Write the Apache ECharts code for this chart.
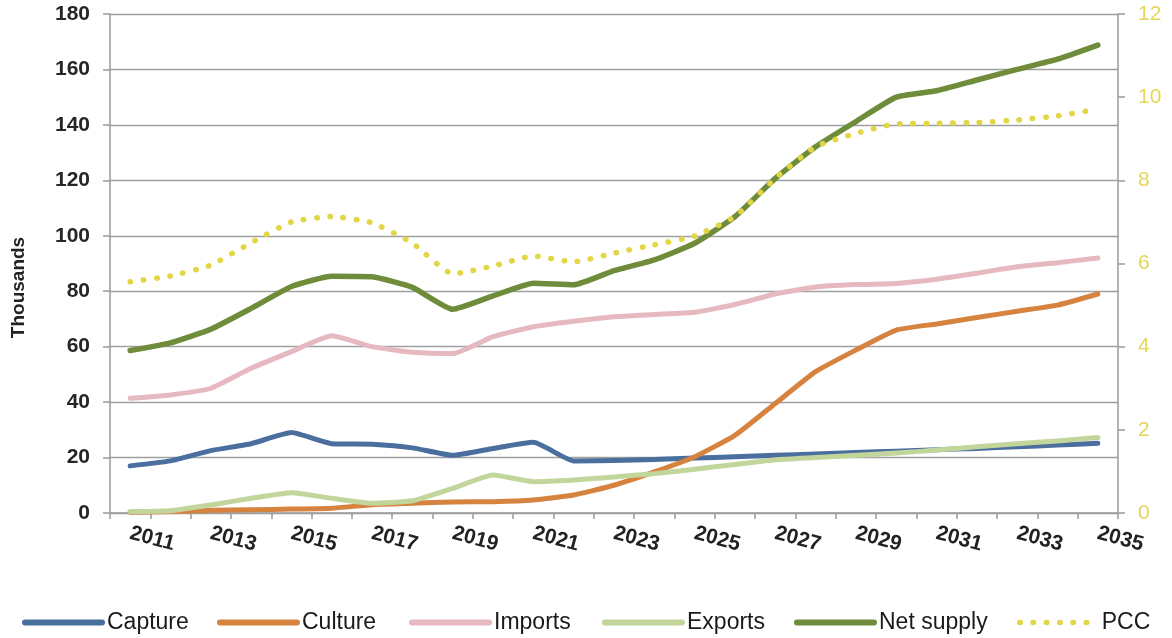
<!DOCTYPE html>
<html>
<head>
<meta charset="utf-8">
<script src="https://cdn.jsdelivr.net/npm/echarts@6/dist/echarts.min.js"></script>
<style>
html,body{margin:0;padding:0;background:#fff;}
#chart{width:1172px;height:638px;}
</style>
</head>
<body>
<div id="chart"></div>
<script>
const years = ['2011','2012','2013','2014','2015','2016','2017','2018','2019','2020','2021','2022','2023','2024','2025','2026','2027','2028','2029','2030','2031','2032','2033','2034','2035'];
const capture = [17, 18.8, 22.5, 25, 29, 25, 24.8, 23.5, 20.8, 23.3, 25.5, 18.8, 18.9, 19.3, 19.8, 20.3, 20.8, 21.3, 21.8, 22.3, 22.8, 23.3, 23.9, 24.5, 25.2];
const culture = [0.3, 0.5, 1.0, 1.2, 1.4, 1.7, 3.0, 3.5, 4.0, 4.1, 4.7, 6.5, 10, 14.8, 20.3, 28, 39.5, 51, 58.8, 66, 68.2, 70.5, 72.8, 75, 79];
const imports = [41.4, 42.6, 45, 52.2, 58.2, 63.9, 60, 58, 57.5, 63.6, 67.2, 69.2, 70.8, 71.6, 72.4, 75.2, 79, 81.5, 82.4, 82.8, 84.3, 86.5, 88.8, 90.3, 92];
const exportsData = [0.5, 0.8, 2.9, 5.3, 7.3, 5.3, 3.5, 4.4, 8.9, 13.7, 11.3, 11.9, 13, 14.2, 15.8, 17.5, 19.2, 20, 20.8, 21.6, 22.7, 23.9, 25, 26, 27.2];
const netSupply = [58.6, 61.4, 66.3, 73.8, 81.7, 85.4, 85.2, 81.4, 73.5, 78.3, 82.9, 82.3, 87.4, 91.3, 97.3, 106.9, 120.7, 132.1, 141.2, 150, 152.3, 156.2, 160, 163.7, 168.8];
const pcc = [5.56, 5.70, 5.96, 6.5, 7.0, 7.13, 6.98, 6.49, 5.75, 5.94, 6.18, 6.04, 6.25, 6.45, 6.66, 7.13, 8.05, 8.81, 9.13, 9.36, 9.37, 9.39, 9.45, 9.55, 9.71];

const colors = {
  Capture: '#4a6e9e',
  Culture: '#d5833f',
  Imports: '#e5b9bf',
  Exports: '#c2d69b',
  'Net supply': '#6e8c3a',
  PCC: '#e2d647'
};

const chart = echarts.init(document.getElementById('chart'), null, {renderer: 'canvas'});
const axisGray = '#9a9a9a';
const font = 'Liberation Sans, Arial, sans-serif';
const pccDash = [0.5, 12.8];

function lineSeries(name, data, extra) {
  return Object.assign({
    name: name,
    type: 'line',
    data: data,
    symbol: 'none',
    smooth: 0.15,
    lineStyle: {color: colors[name], width: 5, cap: 'round', join: 'round'},
    itemStyle: {color: colors[name]}
  }, extra || {});
}

function legendAt(name, left, dashed) {
  return {
    data: [name],
    left: left,
    top: 606,
    itemWidth: 77,
    itemHeight: 14,
    itemStyle: {opacity: 0},
    lineStyle: dashed
      ? {width: 5.5, type: pccDash, cap: 'round', color: colors[name]}
      : {width: 6, type: 'solid', cap: 'round', color: colors[name]},
    textStyle: {fontFamily: font, fontSize: 23, color: '#1a1a1a'}
  };
}

chart.setOption({
  animation: false,
  backgroundColor: '#ffffff',
  grid: {left: 110, right: 54, top: 14, bottom: 125, containLabel: false},
  legend: [
    legendAt('Capture', 17),
    legendAt('Culture', 212),
    legendAt('Imports', 404),
    legendAt('Exports', 597),
    legendAt('Net supply', 789),
    legendAt('PCC', 1012, true)
  ],
  xAxis: {
    type: 'category',
    data: years,
    boundaryGap: true,
    axisLine: {lineStyle: {color: axisGray, width: 1.5}},
    axisTick: {show: true, interval: 0, length: 6, lineStyle: {color: axisGray, width: 1.5}},
    axisLabel: {interval: 1, rotate: -15, margin: 20, fontFamily: font, fontWeight: 'bold', fontSize: 21, color: '#222'},
    splitLine: {show: false}
  },
  yAxis: [
    {
      type: 'value', min: 0, max: 180, interval: 20,
      name: 'Thousands', nameLocation: 'middle', nameGap: 82,
      nameTextStyle: {fontFamily: font, fontWeight: 'bold', fontSize: 19, color: '#222', padding: [0, 48, 0, 0]},
      axisLine: {show: true, lineStyle: {color: axisGray, width: 1.5}},
      axisTick: {show: true, length: 7, lineStyle: {color: axisGray, width: 1.5}},
      axisLabel: {margin: 20, fontFamily: font, fontWeight: 'bold', fontSize: 21, color: '#262626'},
      splitLine: {show: true, lineStyle: {color: '#a0a0a0', width: 1.4}}
    },
    {
      type: 'value', min: 0, max: 12, interval: 2, position: 'right',
      axisLine: {show: true, lineStyle: {color: axisGray, width: 1.5}},
      axisTick: {show: true, length: 7, lineStyle: {color: axisGray, width: 1.5}},
      axisLabel: {margin: 20, fontFamily: font, fontSize: 21, color: '#e4d65a'},
      splitLine: {show: false}
    }
  ],
  series: [
    lineSeries('Capture', capture),
    lineSeries('Culture', culture),
    lineSeries('Imports', imports),
    lineSeries('Exports', exportsData),
    lineSeries('Net supply', netSupply, {lineStyle: {color: colors['Net supply'], width: 5.5, cap: 'round', join: 'round'}}),
    lineSeries('PCC', pcc, {yAxisIndex: 1, lineStyle: {color: colors.PCC, width: 5.5, type: pccDash, cap: 'round'}})
  ]
});
</script>
</body>
</html>
